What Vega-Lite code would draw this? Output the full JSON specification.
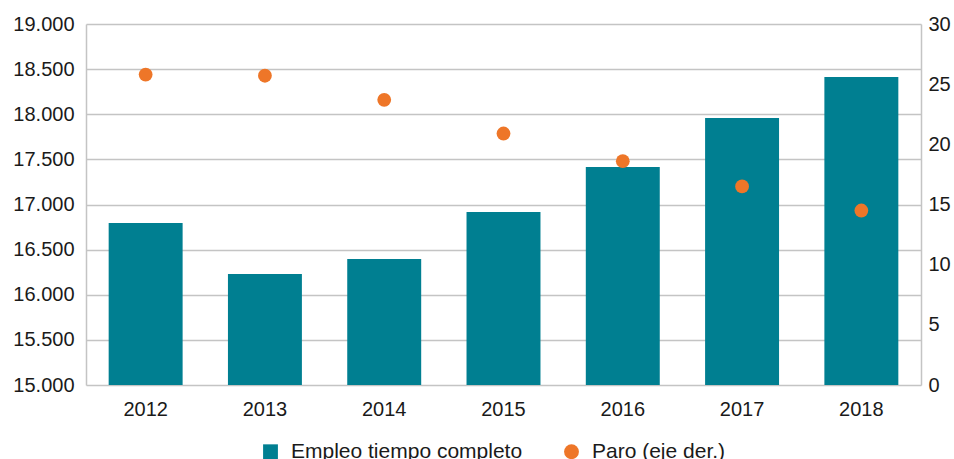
{
  "$schema": "https://vega.github.io/schema/vega-lite/v6.json",
  "width": 835,
  "height": 361,
  "autosize": {"type": "none"},
  "padding": {"left": 86, "top": 24, "right": 33, "bottom": 74},
  "config": {
    "view": {"stroke": null},
    "font": "Liberation Sans",
    "axis": {
      "labelFont": "Liberation Sans",
      "labelFontSize": 20,
      "labelColor": "#1a1a1a",
      "ticks": false,
      "title": null,
      "domainColor": "#c4c4c4",
      "domainWidth": 1.5,
      "gridColor": "#c4c4c4",
      "gridWidth": 1.5
    },
    "legend": {
      "labelFont": "Liberation Sans",
      "labelFontSize": 21,
      "labelColor": "#1a1a1a",
      "labelLimit": 0
    }
  },
  "data": {
    "values": [
      {"year": "2012", "empleo": 16795, "paro": 25.8},
      {"year": "2013", "empleo": 16230, "paro": 25.7},
      {"year": "2014", "empleo": 16396, "paro": 23.7},
      {"year": "2015", "empleo": 16917, "paro": 20.9},
      {"year": "2016", "empleo": 17416, "paro": 18.6},
      {"year": "2017", "empleo": 17958, "paro": 16.5},
      {"year": "2018", "empleo": 18413, "paro": 14.5}
    ]
  },
  "encoding": {
    "x": {
      "field": "year",
      "type": "nominal",
      "scale": {"paddingInner": 0.38, "paddingOuter": 0.19},
      "axis": {"labelAngle": 0, "domain": false, "grid": false, "labelPadding": 14}
    }
  },
  "layer": [
    {
      "mark": {"type": "bar", "clip": true},
      "encoding": {
        "y": {
          "field": "empleo",
          "type": "quantitative",
          "scale": {"domain": [15000, 19000], "zero": false, "nice": false},
          "axis": {
            "values": [15000, 15500, 16000, 16500, 17000, 17500, 18000, 18500, 19000],
            "labelExpr": "replace(format(datum.value, ','), ',', '.')",
            "grid": true,
            "domain": true,
            "labelPadding": 12
          }
        },
        "color": {
          "datum": "Empleo tiempo completo",
          "type": "nominal",
          "scale": {
            "domain": ["Empleo tiempo completo", "Paro (eje der.)"],
            "range": ["#007F91", "#EE7628"]
          },
          "legend": {
            "title": null,
            "orient": "none",
            "direction": "horizontal",
            "legendX": 174,
            "legendY": 417,
            "symbolSize": 220,
            "columnPadding": 38,
            "labelOffset": 10,
            "labelLimit": 0
          }
        }
      }
    },
    {
      "mark": {"type": "point", "filled": true, "size": 190, "opacity": 1},
      "encoding": {
        "y": {
          "field": "paro",
          "type": "quantitative",
          "scale": {"domain": [0, 30], "nice": false},
          "axis": {
            "orient": "right",
            "values": [0, 5, 10, 15, 20, 25, 30],
            "grid": false,
            "domain": true,
            "labelPadding": 7
          }
        },
        "color": {"datum": "Paro (eje der.)", "type": "nominal"},
        "shape": {
          "datum": "Paro (eje der.)",
          "type": "nominal",
          "scale": {
            "domain": ["Empleo tiempo completo", "Paro (eje der.)"],
            "range": ["square", "circle"]
          },
          "legend": {
            "title": null,
            "orient": "none",
            "direction": "horizontal",
            "legendX": 174,
            "legendY": 417,
            "symbolSize": 220,
            "columnPadding": 38,
            "labelOffset": 10,
            "labelLimit": 0
          }
        }
      }
    }
  ],
  "resolve": {"scale": {"y": "independent"}}
}
